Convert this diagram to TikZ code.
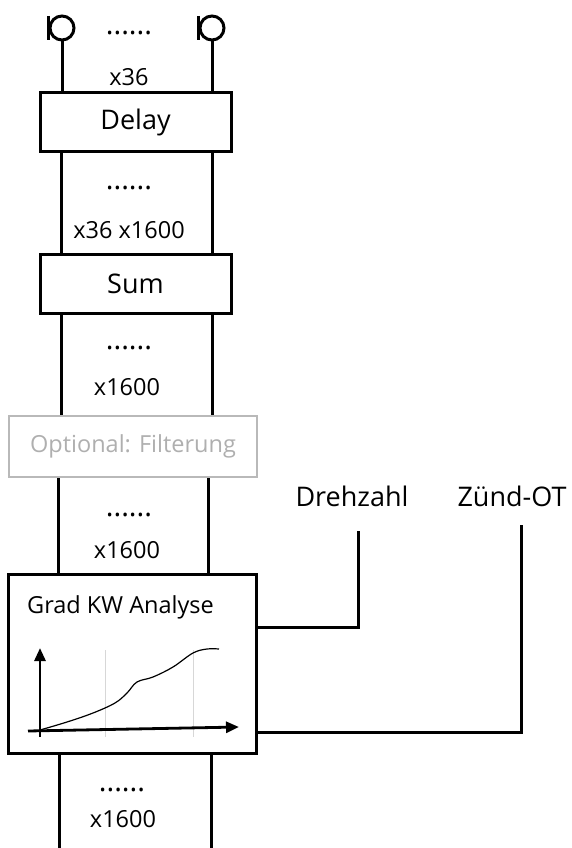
\documentclass[tikz,border=0pt]{standalone}
\usepackage{fontspec}
\setmainfont{Open Sans}
\usetikzlibrary{arrows.meta}
\definecolor{filtgray}{RGB}{175,175,175}
\definecolor{filtline}{RGB}{185,185,185}
\definecolor{gridgray}{RGB}{215,215,215}
\tikzset{
  wire/.style={line width=3pt},
  blockbox/.style={draw, line width=3pt, inner sep=0pt, font=\fontsize{27}{30}\selectfont},
  filtbox/.style={draw=filtline, line width=2pt, inner sep=0pt, text=filtgray, font=\fontsize{23.5}{27}\selectfont},
  smalltxt/.style={inner sep=0pt, font=\fontsize{23.5}{27}\selectfont},
  bigtxt/.style={inner sep=0pt, font=\fontsize{27}{30}\selectfont},
  dotstxt/.style={inner sep=0pt, font=\fontsize{29}{30}\selectfont},
  mic/.style={circle, draw, line width=3pt, minimum size=24pt, inner sep=0pt},
  axis/.style={line width=2.8pt, -{Stealth[length=13pt,width=11pt,inset=0pt]}},
}
\begin{document}
\begin{tikzpicture}[x=1pt,y=-1pt]
\useasboundingbox (0,0) rectangle (571,848);
% microphones
\node[mic] (m1) at (62,28) {};
\node[mic] (m2) at (212,28) {};
\draw[wire] ([yshift=12pt]m1.west) -- ([yshift=-12pt]m1.west);
\draw[wire] ([yshift=12pt]m2.west) -- ([yshift=-12pt]m2.west);
\node[dotstxt] (d0) at (129,33) {......};
\node[smalltxt] (t0) at (129,77) {x36};
% boxes
\node[blockbox, minimum width=191pt, minimum height=59pt] (delay) at (135.5,122) {Delay};
\node[blockbox, minimum width=191pt, minimum height=59pt] (sum) at (135.5,284) {Sum};
\node[filtbox, minimum width=248pt, minimum height=61pt] (filt) at (133,446.5) {Optional: Filterung};
\node[draw, line width=3pt, minimum width=248pt, minimum height=179pt, inner sep=0pt] (grad) at (132.5,664) {};
\node[smalltxt, anchor=west] (gtitle) at (27,607) {Grad KW Analyse};
% column coordinates
\coordinate (cL2) at (61,0);  \coordinate (cR2) at (212,0);
\coordinate (cL3) at (58,0);  \coordinate (cR3) at (208,0);
\coordinate (cL4) at (59,0);  \coordinate (cR4) at (211,0);
\coordinate (bot) at (0,848);
% wires
\draw[wire] (m1.south) -- (m1.south |- delay.north);
\draw[wire] (m2.south) -- (m2.south |- delay.north);
\draw[wire] (delay.south -| cL2) -- (sum.north -| cL2);
\draw[wire] (delay.south -| cR2) -- (sum.north -| cR2);
\draw[wire] (sum.south -| cL2) -- (filt.north -| cL2);
\draw[wire] (sum.south -| cR2) -- (filt.north -| cR2);
\draw[wire] (filt.south -| cL3) -- (grad.north -| cL3);
\draw[wire] (filt.south -| cR3) -- (grad.north -| cR3);
\draw[wire] (grad.south -| cL4) -- (bot -| cL4);
\draw[wire] (grad.south -| cR4) -- (bot -| cR4);
% wire labels
\node[dotstxt] (d1) at (129,188) {......};
\node[smalltxt] (t1) at (129,230) {x36 x1600};
\node[dotstxt] (d2) at (129,348) {......};
\node[smalltxt] (t2) at (127,387) {x1600};
\node[dotstxt] (d3) at (129,515) {......};
\node[smalltxt] (t3) at (127,550) {x1600};
\node[dotstxt] (d4) at (122,790) {......};
\node[smalltxt] (t4) at (123,819) {x1600};
% graph
\draw[gridgray, line width=0.6pt] (105,650) -- (105,737);
\draw[gridgray, line width=0.6pt] (193,650) -- (193,737);
\coordinate (ax0) at (40,737);
\coordinate (ay1) at (40,648);
\coordinate (axl) at (28,731);
\coordinate (axr) at (239,727);
\draw[axis] (ax0) -- (ay1);
\draw[axis] (axl) -- (axr);
\draw[line width=1.2pt] plot[smooth, tension=0.6] coordinates {(40,730) (67,722) (93,713) (115,703) (127,693) (137,682) (153,677) (173,667) (193,653) (207,649) (219,649)};
% outputs
\node[bigtxt] (dreh) at (352,496) {Drehzahl};
\node[bigtxt] (zuend) at (512,496) {Zünd-OT};
\coordinate (drehend) at (358,531);
\coordinate (zuendend) at (521,525);
\draw[wire] (grad.east |- 0,627) -- (drehend |- 0,627) -- (drehend);
\draw[wire] (grad.east |- 0,732) -- (zuendend |- 0,732) -- (zuendend);
\end{tikzpicture}
\end{document}
